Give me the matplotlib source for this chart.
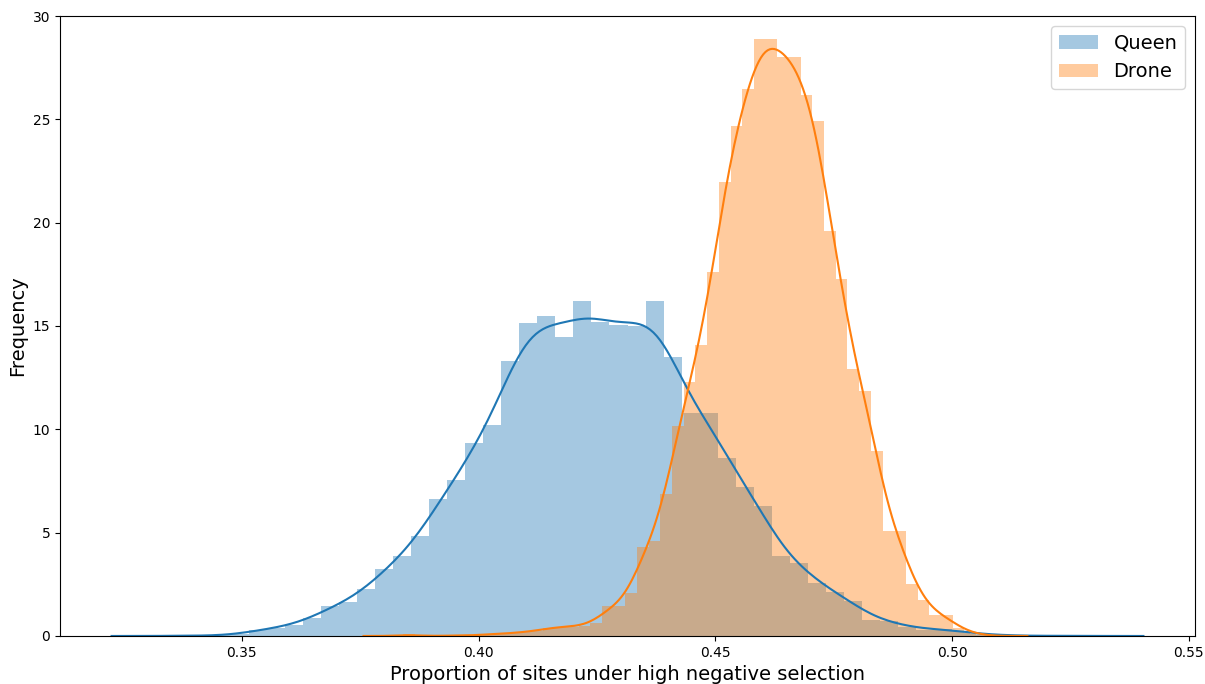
import numpy as np
import matplotlib.pyplot as plt

# histogram bins (density heights)
queen_start = 0.33639
queen_width = 0.003803
queen_heights = [0.03, 0.0, 0.03, 0.08,
                 0.3, 0.4, 0.53, 0.86, 1.45, 1.65, 2.26, 3.23, 3.87, 4.84,
                 6.63, 7.55, 9.32, 10.2, 13.32, 15.13, 15.48, 14.45, 16.21, 15.2,
                 15.05, 15.0, 16.2, 13.5, 10.8, 10.8, 8.6, 7.2, 6.3, 3.87,
                 3.55, 2.58, 2.13, 1.71, 0.77, 0.74, 0.45, 0.3, 0.35, 0.25,
                 0.08, 0.05,
                 0.03, 0.0, 0.0, 0.03]

drone_start = 0.38407
drone_width = 0.00247
drone_heights = [0.1, 0.0, 0.0, 0.0, 0.05, 0.0, 0.05, 0.1, 0.1, 0.15,
                 0.2, 0.25, 0.4, 0.45, 0.45, 0.5, 0.64, 1.45, 1.45, 2.06,
                 4.3, 4.6, 6.87, 10.16, 12.3, 14.1,
                 17.63, 21.98, 24.69, 26.46, 28.87, 28.87, 28.03, 28.03, 26.2, 24.9,
                 19.6, 17.27, 12.9, 11.85, 8.95, 5.08, 5.08, 2.52, 1.74, 1.02,
                 1.02, 0.38, 0.15, 0.05]

labels = ['Queen', 'Drone']


def draw(ax, start, width, heights, color, label, bw, cut):
    heights = np.array(heights)
    edges = start + width * np.arange(len(heights) + 1)
    centers = edges[:-1] + width / 2
    ax.bar(edges[:-1], heights, width=width, align='edge', color=color,
           alpha=0.4, linewidth=0, label=label)
    # gaussian kde of the binned values, extended past the data like distplot
    grid = np.linspace(centers.min() - cut, centers.max() + cut, 300)
    w = heights / heights.sum()
    z = (grid[:, None] - centers[None, :]) / bw
    dens = (np.exp(-0.5 * z ** 2) * w).sum(axis=1) / (bw * np.sqrt(2 * np.pi))
    ax.plot(grid, dens, color=color, lw=1.5)


fig = plt.figure(figsize=(12.05, 6.84), dpi=100)
fig.subplots_adjust(left=0.0498, right=0.9917, top=0.9766, bottom=0.0702)
ax = fig.add_subplot(111)

draw(ax, queen_start, queen_width, queen_heights, 'C0', labels[0], 0.0045, 0.0158)
draw(ax, drone_start, drone_width, drone_heights, 'C1', labels[1], 0.0028, 0.0096)

ax.set_ylim(0, 30)
ax.set_xlabel('Proportion of sites under high negative selection', fontsize=14)
ax.set_ylabel('Frequency', fontsize=14)
ax.legend(fontsize=14, loc='upper right')

fig.savefig('out.png', dpi=100)
